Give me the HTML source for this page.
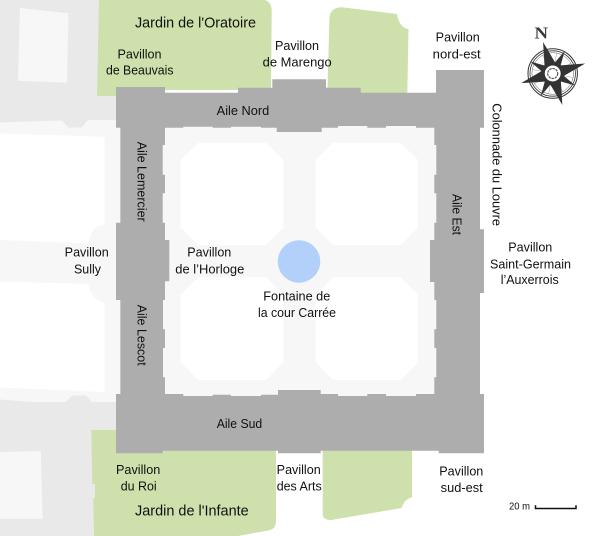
<!DOCTYPE html>
<html>
<head>
<meta charset="utf-8">
<style>
html,body{margin:0;padding:0;background:#fff;width:600px;height:536px;overflow:hidden}
svg{display:block}
text{font-family:"Liberation Sans",sans-serif;font-size:12.5px;fill:#111}
.b{font-size:15px}
</style>
</head>
<body>
<svg width="600" height="536" viewBox="0 0 600 536" xmlns="http://www.w3.org/2000/svg">
<rect width="600" height="536" fill="#fff"/>
<rect x="0" y="0" width="120" height="536" fill="#e9e9e9"/>
<polygon points="0,122.5 29,121.5 62,120.5 68.5,127.5 81.5,127.5 88,120 120,120 120,402 92,402 86,395.5 72,395.5 66,402 32,402 0,399.5" fill="#f7f7f7"/>
<path d="M0,133.500 L104.500,136.700 V224 C96,226 90,231 88.500,243.500 L0,240 Z M0,281.500 L88.500,284 C90,294 96,301 104.500,302.700 V392 L0,387.500 Z" fill="#fff"/>
<polygon points="20,8 68.500,13.300 67,82.700 18,80.700" fill="#f7f7f7"/>
<polygon points="0,452 40.700,451 42.700,518.700 0,518.700" fill="#f7f7f7"/>

<path d="M99,0 H265 Q271.700,2 271.700,11.700 L271,90 H160 V96 H97 Z" fill="#cee0ab"/>
<path d="M329.500,16.700 Q331,7.300 342,7.300 L397,14 C398,22 402,28 408.500,29.300 L407.300,95 H327.300 Z" fill="#cee0ab"/>
<path d="M91.300,430 H120 V446 H276 V521 Q276,530 266.700,530.700 L238,536 H94 L93.300,498 H95 V484 H92.300 Z" fill="#cee0ab"/>
<path d="M322.700,446 H412 V497.300 C406,499 403,503 401.700,508 L331,520 Q322.700,520 322.700,514 Z" fill="#cee0ab"/>

<rect x="160" y="120" width="280" height="280" fill="#f7f7f7"/>
<polygon points="198.300,142.700 266,142.700 283.300,160 283.300,227.700 266,245 198.300,245 180.700,227.700 180.700,160" fill="#fff"/>
<polygon points="333,142.700 400.700,142.700 418,160 418,227.700 400.700,245 333,245 315.700,227.700 315.700,160" fill="#fff"/>
<polygon points="198.300,277.300 266,277.300 283.300,294.700 283.300,362.300 266,380 198.300,380 180.700,362.300 180.700,294.700" fill="#fff"/>
<polygon points="333,277.300 400.700,277.300 418,294.700 418,362.300 400.700,380 333,380 315.700,362.300 315.700,294.700" fill="#fff"/>

<path fill-rule="evenodd" fill="#adadad" d="M116,87 H165 V92.700 H238 V87.700 H272.300 V79.300 H326 V87.700 H360.700 V92.700 H436 V70 H484 V127.700 H480 V229.300 H484 V293 H480 V394 H484 V453.300 H438.700 V450.700 H320.700 V453.300 H278 V450.700 H162.700 V453.300 H116 V394 H120.300 V300 H116 V222.700 H120.300 V127.700 H116 Z
M165,127.700 V145 H162.700 V174.700 H165 V193.300 H162.700 V222.700 H165 V240 H169.300 V281.300 H165 V300 H163 V329.300 H165 V348 H163 V377.300 H165 V394 H183.300 V396 H212.700 V394.700 H231 V396 H261 V394.700 H278 V390 H320.700 V394 H338 V396 H367.300 V394 H386 V396 H416 V394 H434.300 V377.300 H436.300 V348 H434.300 V329.300 H436.300 V300 H434.300 V282 H430 V240 H434.300 V222.700 H436.300 V193.300 H434.300 V174.700 H436.300 V145 H434.300 V127.700 H416 V126 H386 V127.700 H367.300 V126 H338 V127.700 H321.700 V132 H276.700 V127.700 H261 V126.700 H231 V127.700 H212.700 V126.700 H183.300 V127.700 Z"/>

<circle cx="299" cy="261.500" r="21.300" fill="#b3d0fb"/>

<text x="135" y="27.500" class="b" textLength="121" lengthAdjust="spacingAndGlyphs">Jardin de l'Oratoire</text>
<text x="117.500" y="58.300" textLength="44" lengthAdjust="spacingAndGlyphs">Pavillon</text>
<text x="106" y="74.500" textLength="67.500" lengthAdjust="spacingAndGlyphs">de Beauvais</text>
<text x="275" y="50" textLength="44" lengthAdjust="spacingAndGlyphs">Pavillon</text>
<text x="262.700" y="66.700" textLength="69" lengthAdjust="spacingAndGlyphs">de Marengo</text>
<text x="435.700" y="41.700" textLength="44" lengthAdjust="spacingAndGlyphs">Pavillon</text>
<text x="432.700" y="58.300" textLength="48" lengthAdjust="spacingAndGlyphs">nord-est</text>
<text x="216.700" y="115" textLength="52.500" lengthAdjust="spacingAndGlyphs">Aile Nord</text>
<text x="64.700" y="256.700" textLength="44" lengthAdjust="spacingAndGlyphs">Pavillon</text>
<text x="74" y="273.300" textLength="27" lengthAdjust="spacingAndGlyphs">Sully</text>
<text x="187.300" y="256.700" textLength="44" lengthAdjust="spacingAndGlyphs">Pavillon</text>
<text x="175.300" y="273.300" textLength="69" lengthAdjust="spacingAndGlyphs">de l’Horloge</text>
<text x="508.300" y="251.700" textLength="44" lengthAdjust="spacingAndGlyphs">Pavillon</text>
<text x="490" y="268.300" textLength="81" lengthAdjust="spacingAndGlyphs">Saint-Germain</text>
<text x="500.700" y="284" textLength="58" lengthAdjust="spacingAndGlyphs">l’Auxerrois</text>
<text x="263.300" y="300.500" textLength="67" lengthAdjust="spacingAndGlyphs">Fontaine de</text>
<text x="258" y="317" textLength="78" lengthAdjust="spacingAndGlyphs">la cour Carrée</text>
<text x="216.700" y="428" textLength="45.500" lengthAdjust="spacingAndGlyphs">Aile Sud</text>
<text x="116" y="474" textLength="44.300" lengthAdjust="spacingAndGlyphs">Pavillon</text>
<text x="120.700" y="490.700" textLength="36" lengthAdjust="spacingAndGlyphs">du Roi</text>
<text x="135" y="515.300" class="b" textLength="113.700" lengthAdjust="spacingAndGlyphs">Jardin de l'Infante</text>
<text x="276.700" y="474" textLength="44" lengthAdjust="spacingAndGlyphs">Pavillon</text>
<text x="276.700" y="490.700" textLength="45" lengthAdjust="spacingAndGlyphs">des Arts</text>
<text x="439.300" y="475.700" textLength="44" lengthAdjust="spacingAndGlyphs">Pavillon</text>
<text x="440.700" y="492" textLength="42" lengthAdjust="spacingAndGlyphs">sud-est</text>

<text transform="translate(137.500,141.700) rotate(90)" textLength="80" lengthAdjust="spacingAndGlyphs">Aile Lemercier</text>
<text transform="translate(137.500,304.700) rotate(90)" textLength="61" lengthAdjust="spacingAndGlyphs">Aile Lescot</text>
<text transform="translate(452.300,194) rotate(90)" textLength="41" lengthAdjust="spacingAndGlyphs">Aile Est</text>
<text transform="translate(492.300,103.300) rotate(90)" textLength="122.700" lengthAdjust="spacingAndGlyphs">Colonnade du Louvre</text>

<text x="509" y="509.700" style="font-size:10px" textLength="21" lengthAdjust="spacingAndGlyphs">20 m</text>
<path d="M535.500,505.300 V508.500 H576 V505.300" fill="none" stroke="#111" stroke-width="1.500"/>

<text x="534.500" y="38.500" style="font-family:'Liberation Serif',serif;font-size:17px;font-weight:bold;fill:#3a3a3a" textLength="13.500" lengthAdjust="spacingAndGlyphs">N</text>

<g transform="translate(552.700,73.500)">
  <circle r="24.700" fill="#fff" stroke="#333" stroke-width="1"/>
  <circle r="22.700" fill="none" stroke="#333" stroke-width="0.800"/>
  <circle r="20.800" fill="none" stroke="#555" stroke-width="0.500"/>
  <g stroke="#aaa" stroke-width="0.600">
    <line x1="-20" y1="-4" x2="20" y2="4"/><line x1="-4" y1="20" x2="4" y2="-20"/>
    <line x1="-18" y1="10" x2="18" y2="-10"/><line x1="-10" y1="-18" x2="10" y2="18"/>
  </g>
  <g transform="rotate(-17)" fill="#333">
    <polygon points="0,-33 5.500,-10 18,-18 10,-5.500 34,0 10,5.500 18,18 5.500,10 0,33 -5.500,10 -18,18 -10,5.500 -33,0 -10,-5.500 -18,-18 -5.500,-10"/>
  </g>
  <circle r="8.500" fill="#fff" stroke="#333" stroke-width="1.100"/>
  <circle r="5" fill="#fff" stroke="#555" stroke-width="1.200" stroke-dasharray="2.500 0.800"/>
</g>
</svg>
</body>
</html>
